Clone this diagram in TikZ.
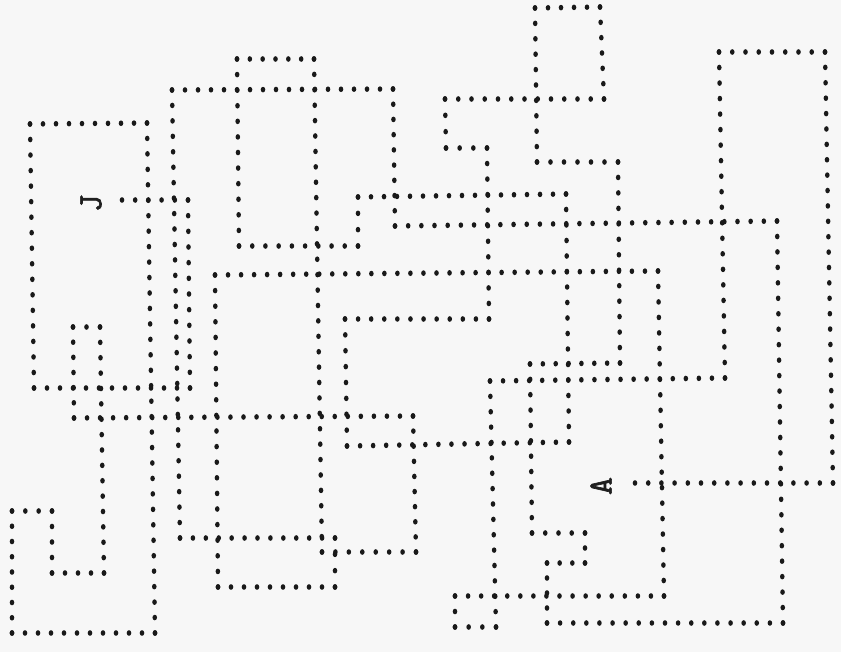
\documentclass[tikz,border=0pt]{standalone}
\usepackage{fontspec}
\newfontfamily\typer{lmmono10-regular.otf}[FakeBold=1.8]
\begin{document}
\tikzset{
  dotmark/.style={fill=black!90},
  letter/.style={font=\typer\fontsize{34}{34}\selectfont, rotate=90, inner sep=0pt, text=black!88}
}
\newcommand\dotseg[4]{%
  \pgfmathsetmacro\dsdx{#3-(#1)}%
  \pgfmathsetmacro\dsdy{#4-(#2)}%
  \pgfmathsetmacro\dslen{max(abs(\dsdx),abs(\dsdy))}%
  \pgfmathsetmacro\dssp{abs(\dsdx)>abs(\dsdy) ? 13.1 : 15.4}%
  \pgfmathtruncatemacro\dsn{max(1,round(\dslen/\dssp))}%
  \foreach \k in {0,...,\dsn}{%
    \pgfmathsetmacro\dst{\k/\dsn}%
    \fill[dotmark] ({#1+\dst*\dsdx},{#2+\dst*\dsdy}) ellipse (2.3 and 2.8);}%
}
\begin{tikzpicture}[x=1pt,y=-1pt]
\fill[black!3] (0,0) rectangle (841,652);
\useasboundingbox (0,0) rectangle (841,652);
\foreach \x/\y [remember=\x as \px (initially 122), remember=\y as \py (initially 200)] in {
  188/200, 190/388, 34/388, 30/124, 147/123, 155/633, 12/633, 12/511,
  52/511, 52/573, 104/573, 100/327, 73/327, 74/418, 413/416, 416/552,
  322/552, 314/59, 237/59, 239/246, 358/246, 358/197, 566/194, 569/442,
  347/446, 345/319, 489/319, 487/148, 446/148, 445/99, 604/99, 600/7,
  535/8, 537/162, 618/162, 620/363, 530/364, 532/533, 585/533, 585/563,
  547/563, 547/623, 783/623, 777/221, 395/226, 393/89, 172/90, 180/538,
  335/538, 335/587, 218/587, 215/275, 658/271, 664/596, 455/596, 455/627,
  496/627, 490/381, 725/378, 719/52, 825/52, 833/483, 635/483}
  {\dotseg{\px}{\py}{\x}{\y}}
\node[letter] (J) at (91,203) {J};
\node[letter] (A) at (601,486) {A};
\end{tikzpicture}
\end{document}
